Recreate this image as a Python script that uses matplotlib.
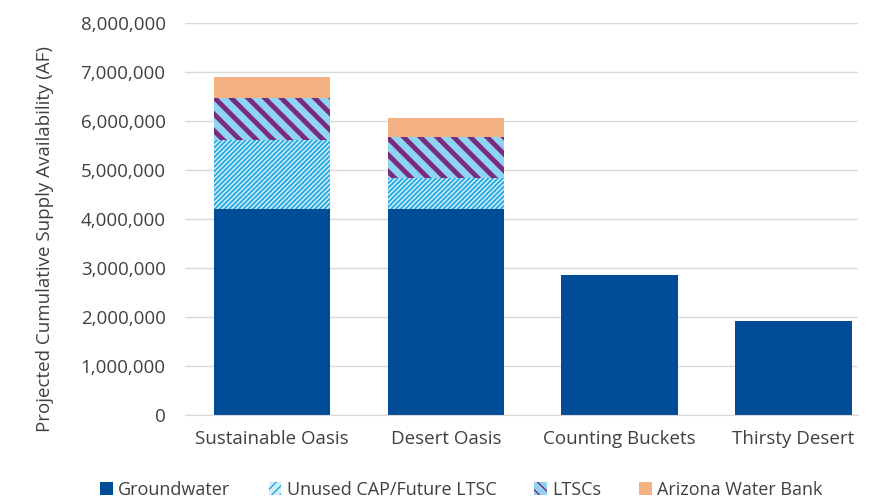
import matplotlib
matplotlib.use("Agg")
import matplotlib.pyplot as plt
from matplotlib.patches import Patch
from matplotlib.ticker import FuncFormatter

categories = ["Sustainable Oasis", "Desert Oasis", "Counting Buckets", "Thirsty Desert"]
groundwater = [4200000, 4200000, 2860000, 1920000]
unused_cap = [1410000, 630000, 0, 0]
ltscs = [860000, 850000, 0, 0]
water_bank = [430000, 390000, 0, 0]
series_names = ["Groundwater", "Unused CAP/Future LTSC", "LTSCs", "Arizona Water Bank"]

plt.rcParams["font.family"] = ["Open Sans", "DejaVu Sans"]
text_color = "#404040"
fs = 13.5

fig = plt.figure(figsize=(8.79, 5.01), dpi=100)
ax = fig.add_axes([0.2105, 0.1717, 0.7655, 0.7823])

x = list(range(len(categories)))
width = 0.67

# groundwater: solid dark blue
ax.bar(x, groundwater, width, color="#004C97", linewidth=0, zorder=3)

# unused CAP: fine cyan stripes on pale blue
bottom = list(groundwater)
with plt.rc_context({"hatch.linewidth": 1.3}):
    ax.bar(x, unused_cap, width, bottom=bottom, facecolor="#D2EEFA",
           edgecolor="#22A9E1", hatch="///////", linewidth=0, zorder=3)

# LTSCs: wide purple stripes on light blue
bottom = [b + u for b, u in zip(bottom, unused_cap)]
with plt.rc_context({"hatch.linewidth": 3.5}):
    ax.bar(x, ltscs, width, bottom=bottom, facecolor="#8FD4F2",
           edgecolor="#7A2B80", hatch="\\\\", linewidth=0, zorder=3)

# water bank
bottom = [b + l for b, l in zip(bottom, ltscs)]
ax.bar(x, water_bank, width, bottom=bottom, color="#F4B183", linewidth=0, zorder=3)

ax.set_ylim(0, 8000000)
ax.set_xlim(-0.5, 3.37)
ax.set_yticks(range(0, 8000001, 1000000))
ax.yaxis.set_major_formatter(FuncFormatter(lambda v, p: f"{int(v):,}"))
ax.set_xticks(x)
ax.set_xticklabels(categories)
ax.tick_params(axis="both", length=0, colors=text_color, labelsize=fs)
ax.tick_params(axis="x", pad=11)
ax.tick_params(axis="y", pad=14)

ax.grid(axis="y", color="#D9D9D9", linewidth=1, zorder=0)
for side in ["top", "right", "left"]:
    ax.spines[side].set_visible(False)
ax.spines["bottom"].set_color("#D9D9D9")
ax.spines["bottom"].set_zorder(4)

ax.set_ylabel("Projected Cumulative Supply Availability (AF)", fontsize=fs, color=text_color)
ax.yaxis.set_label_coords(-0.195, 0.45)

with plt.rc_context({"hatch.linewidth": 1.2}):
    handles = [
        Patch(facecolor="#004C97", linewidth=0),
        Patch(facecolor="#D2EEFA", edgecolor="#22A9E1", hatch="////", linewidth=0),
        Patch(facecolor="#8FD4F2", edgecolor="#7A2B80", hatch="\\\\\\", linewidth=0),
        Patch(facecolor="#F4B183", linewidth=0),
    ]
fig.legend(handles, series_names, loc="center", bbox_to_anchor=(0.525, 0.022), ncol=4,
           frameon=False, fontsize=13, handlelength=0.7, handleheight=0.7,
           handletextpad=0.3, columnspacing=2.1, labelcolor=text_color)

fig.savefig("out.png", dpi=100)
